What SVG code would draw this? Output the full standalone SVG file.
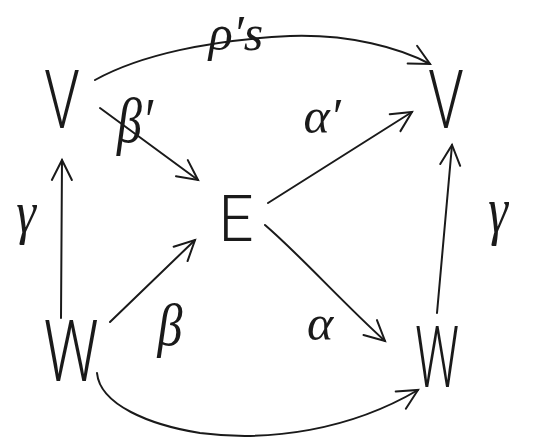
<svg xmlns="http://www.w3.org/2000/svg" width="537" height="445" viewBox="0 0 537 445">
<style>
.n{font-family:Roboto,"DejaVu Sans",sans-serif;font-weight:300;font-size:82px;fill:#1a1a1a;text-anchor:middle}
.l{font-family:"Liberation Serif","DejaVu Serif",serif;font-style:italic;font-size:50px;fill:#1a1a1a;text-anchor:middle}
.c{fill:none;stroke:#1a1a1a;stroke-width:2;stroke-linecap:round;stroke-linejoin:round}
</style>
<defs>
<marker id="a" viewBox="-22 -12 26 24" markerWidth="26" markerHeight="24" refX="0" refY="0" orient="auto" markerUnits="userSpaceOnUse">
<path d="M-20,-10 L0,0 L-20,10" fill="none" stroke="#1a1a1a" stroke-width="2" stroke-linecap="round"/>
</marker>
</defs>
<g id="connectors">
<path class="c" marker-end="url(#a)" d="M95,80 C140,55 210,40 290,36 C350,34 400,48 430,64"/>
<path class="c" marker-end="url(#a)" d="M100,108 L198,180"/>
<path class="c" marker-end="url(#a)" d="M268,203 L412,112"/>
<path class="c" marker-end="url(#a)" d="M61,318 L62,160"/>
<path class="c" marker-end="url(#a)" d="M437,313 L452,145"/>
<path class="c" marker-end="url(#a)" d="M110,322 L195,240"/>
<path class="c" marker-end="url(#a)" d="M265,225 C300,255 340,300 385,341"/>
<path class="c" marker-end="url(#a)" d="M97,373 C100,405 150,425 200,433 C270,442 350,430 418,390"/>
</g>
<g id="V1"><text class="n" transform="translate(62,128) scale(0.7,1)">V</text></g>
<g id="V2"><text class="n" transform="translate(446,128) scale(0.7,1)">V</text></g>
<g id="E"><text class="n" transform="translate(236,241) scale(0.75,0.8)">E</text></g>
<g id="W1"><text class="n" transform="translate(71,381) scale(0.75,1.05)">W</text></g>
<g id="W2"><text class="n" transform="translate(437,387) scale(0.6,1.05)">W</text></g>
<g id="labels">
<text class="l" x="236" y="50">ρ′s</text>
<text class="l" transform="translate(135,142) scale(1,1.25)">β′</text>
<text class="l" x="322" y="133">α′</text>
<text class="l" transform="translate(26,232) scale(1,1.2)">γ</text>
<text class="l" transform="translate(498,232) scale(1,1.3)">γ</text>
<text class="l" transform="translate(170,345) scale(1,1.2)">β</text>
<text class="l" x="320" y="340">α</text>
</g>
</svg>
